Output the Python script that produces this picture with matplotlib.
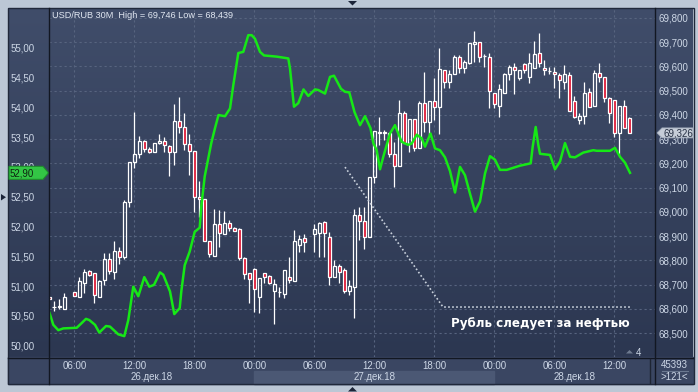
import numpy as np
import matplotlib
matplotlib.use('Agg')
import matplotlib.pyplot as plt
from matplotlib.patches import Rectangle, Polygon
from matplotlib.transforms import blended_transform_factory
from matplotlib.colors import LinearSegmentedColormap

plt.rcParams['font.family'] = ['Liberation Sans', 'DejaVu Sans']

# ---------------- data ----------------
# USD/RUB 30M candles, first bar 26.12.18 03:30, step 30 min (hours since 26.12 00:00)
start_hour = 3.5
bar_step = 0.5
opens = [68.651, 68.607, 68.610, 68.601, None, 68.669, 68.651, 68.708, 68.755, 68.747,
         68.651, 68.719, 68.805, 68.751, 68.838, 68.813, 69.040, 69.205, 69.239, 69.294,
         69.258, 69.246, 69.283, 69.291, 69.271, 69.246, 69.374, 69.349, 69.279, 69.251,
         69.060, 69.052, 68.879, 68.820, 68.949, 68.908, 68.953, 68.933, 68.930, 68.811,
         68.747, 68.764, 68.648, 68.747, 68.737, 68.675, 68.671, 68.660, 68.733, 68.715,
         68.864, 68.891, None, 68.908, 68.912, 68.957, 68.898, 68.733, 68.778, 68.761,
         68.675, 68.692, 68.987, 68.963, 68.895, 69.145, 69.331, 69.324, 69.327, 69.238,
         69.191, 69.407, 69.283, 69.382, 69.265, 69.448, 69.370, 69.458, 69.432, 69.585,
         69.535, 69.569, 69.638, 69.592, 69.613, 69.693, 69.702, 69.643, 69.640, 69.489,
         69.437, 69.489, 69.568, 69.599, 69.551, 69.609, 69.555, 69.595, 69.654, 69.592,
         69.581, 69.576, 69.565, 69.537, 69.565, 69.458, 69.379, 69.397, 69.496, 69.437,
         69.572, 69.555, 69.471, 69.462, 69.324, 69.437, 69.386]
highs = [68.651, 68.634, 68.640, 68.667, None, 68.669, 68.733, 68.764, 68.761, 68.748,
         68.719, 68.830, 68.830, 68.879, 68.857, 69.049, 69.207, 69.412, 69.313, 69.297,
         69.269, 69.283, 69.320, 69.310, 69.276, 69.445, 69.475, 69.407, 69.320, 69.251,
         69.129, 69.052, 68.879, 69.013, 69.008, 69.004, 68.967, 68.939, 68.933, 68.813,
         68.747, 68.768, 68.726, 68.747, 68.740, 68.722, 68.692, 68.761, 68.813, 68.926,
         68.905, 68.908, None, 68.950, 68.960, 68.963, 68.919, 68.802, 68.784, 68.768,
         68.719, 69.011, 69.022, 69.022, 69.143, 69.334, 69.393, 69.338, 69.327, 69.290,
         69.462, 69.418, 69.382, 69.382, 69.458, 69.578, 69.458, 69.551, 69.675, 69.585,
         69.585, 69.647, 69.647, 69.627, 69.698, 69.746, 69.702, 69.650, 69.654, 69.492,
         69.526, 69.572, 69.606, 69.613, 69.585, 69.613, 69.654, 69.705, 69.737, 69.627,
         69.599, 69.599, 69.572, 69.606, 69.578, 69.478, 69.407, 69.537, 69.510, 69.585,
         69.613, 69.558, 69.475, 69.462, 69.437, 69.462, 69.393]
lows = [68.640, 68.593, 68.599, 68.601, None, 68.652, 68.648, 68.665, 68.736, 68.626,
        68.651, 68.698, 68.744, 68.722, 68.785, 68.805, 69.019, 69.183, 69.221, 69.248,
        69.242, 69.246, 69.279, 69.248, 69.150, 69.194, 69.324, 69.255, 69.152, 69.001,
        68.980, 68.879, 68.815, 68.820, 68.857, 68.908, 68.921, 68.921, 68.802, 68.722,
        68.626, 68.589, 68.585, 68.706, 68.703, 68.537, 68.651, 68.644, 68.706, 68.715,
        68.836, 68.834, None, 68.834, 68.815, 68.815, 68.699, 68.733, 68.706, 68.665,
        68.658, 68.561, 68.884, 68.846, 68.895, 69.121, 69.276, 69.297, 69.228, 69.104,
        69.191, 69.283, 69.248, 69.251, 69.265, 69.331, 69.317, 69.379, 69.320, 69.510,
        69.510, 69.569, 69.572, 69.572, 69.609, 69.620, 69.620, 69.599, 69.430, 69.427,
        69.393, 69.489, 69.544, 69.486, 69.544, 69.572, 69.531, 69.592, 69.596, 69.565,
        69.569, 69.510, 69.469, 69.507, 69.418, 69.389, 69.361, 69.361, 69.434, 69.437,
        69.535, 69.455, 69.366, 69.310, 69.235, 69.347, 69.326]
closes = [68.640, 68.607, 68.613, 68.648, None, 68.652, 68.715, 68.752, 68.739, 68.659,
          68.714, 68.805, 68.758, 68.838, 68.813, 69.040, 69.205, 69.239, 69.294, 69.258,
          69.246, 69.283, 69.291, 69.275, 69.246, 69.374, 69.349, 69.279, 69.253, 69.060,
          69.052, 68.879, 68.825, 68.949, 68.912, 68.953, 68.933, 68.921, 68.809, 68.744,
          68.725, 68.681, 68.726, 68.731, 68.706, 68.702, 68.671, 68.761, 68.719, 68.880,
          68.888, 68.875, None, 68.930, 68.953, 68.912, 68.733, 68.778, 68.751, 68.675,
          68.695, 68.987, 68.963, 68.898, 69.143, 69.334, 69.324, 69.331, 69.238, 69.191,
          69.407, 69.283, 69.382, 69.265, 69.448, 69.370, 69.458, 69.432, 69.588, 69.535,
          69.569, 69.638, 69.592, 69.617, 69.695, 69.701, 69.640, 69.643, 69.499, 69.444,
          69.506, 69.568, 69.599, 69.585, 69.585, 69.585, 69.615, 69.650, 69.613, 69.585,
          69.581, 69.568, 69.544, 69.569, 69.418, 69.390, 69.397, 69.489, 69.434, 69.572,
          69.555, 69.471, 69.407, 69.324, 69.437, 69.347, 69.326]

# Oil (left axis), hours since 26.12 00:00
oil_hours = [3.52, 3.90, 4.40, 4.90, 6.24, 6.74, 7.17, 7.50, 8.07, 8.50,
             9.17, 9.57, 10.40, 11.00, 11.40, 11.90, 12.40, 13.00, 13.50, 13.97,
             14.57, 14.90, 15.57, 16.00, 16.54, 16.70, 17.04, 17.54, 18.04, 18.54,
             18.70, 19.04, 19.70, 20.07, 20.42, 21.07, 21.57, 21.90, 22.40, 22.90,
             23.40, 23.74, 24.07, 24.57, 24.97, 26.24, 27.40, 27.57, 27.97, 28.40,
             28.92, 29.40, 30.07, 30.40, 31.07, 31.57, 31.97, 32.67, 33.07, 33.50,
             34.02, 34.57, 35.07, 35.62, 35.90, 36.24, 36.57, 36.90, 37.57, 38.07,
             38.40, 38.74, 39.37, 39.74, 40.24, 40.74, 41.07, 41.62, 42.07, 42.57,
             43.07, 43.57, 44.07, 44.57, 45.07, 45.57, 46.07, 46.57, 47.07, 47.57,
             48.07, 48.57, 49.24, 50.57, 51.64, 51.84, 52.14, 52.40, 52.57, 53.57,
             54.07, 54.57, 55.07, 55.57, 56.07, 56.90, 57.90, 58.24, 59.57, 60.07,
             60.57, 61.07, 61.57]
oil_vals = [50.55, 50.35, 50.26, 50.29, 50.30, 50.38, 50.45, 50.43, 50.35, 50.22,
            50.33, 50.32, 50.19, 50.16, 50.43, 50.99, 50.83, 51.15, 50.99, 51.02,
            51.23, 51.19, 50.91, 50.53, 50.63, 50.91, 51.35, 51.58, 51.91, 51.98,
            52.33, 52.84, 53.40, 53.65, 53.87, 53.85, 53.98, 54.37, 54.91, 54.93,
            55.21, 55.21, 55.15, 54.93, 54.87, 54.85, 54.82, 54.65, 54.01, 54.07,
            54.30, 54.19, 54.30, 54.29, 54.23, 54.51, 54.53, 54.31, 54.26, 54.25,
            53.92, 53.70, 53.85, 53.65, 53.40, 53.28, 52.96, 53.17, 53.56, 53.70,
            53.56, 53.42, 53.37, 53.39, 53.54, 53.48, 53.34, 53.56, 53.31, 53.28,
            53.16, 52.93, 52.57, 53.00, 52.86, 52.55, 52.25, 52.42, 52.89, 53.18,
            53.12, 52.95, 52.95, 53.02, 53.06, 53.34, 53.67, 53.37, 53.22, 53.20,
            52.96, 53.09, 53.40, 53.17, 53.16, 53.24, 53.28, 53.27, 53.27, 53.32,
            53.17, 53.07, 52.90]

usd_ticks = [68.5, 68.6, 68.7, 68.8, 68.9, 69.0, 69.1, 69.2, 69.3, 69.4, 69.5, 69.6, 69.7, 69.8]
oil_ticks = [50.0, 50.5, 51.0, 51.5, 52.0, 52.5, 53.0, 53.5, 54.0, 54.5, 55.0]
time_ticks = [6, 12, 18, 24, 30, 36, 42, 48, 54, 60]
time_labels = ['06:00', '12:00', '18:00', '00:00', '06:00', '12:00', '18:00', '00:00', '06:00', '12:00']
day_starts = [0, 24, 48]
day_labels = ['26.дек.18', '27.дек.18', '28.дек.18']

note_hours = [33.07, 42.87, 61.67]
note_vals = [69.185, 68.608, 68.608]
note_text = 'Рубль следует за нефтью'
title_text = 'USD/RUB 30M  High = 69,746 Low = 68,439'

# ---------------- figure ----------------
W, H = 698, 392
fig = plt.figure(figsize=(W / 100, H / 100), dpi=100)

bg = fig.add_axes([0, 0, 1, 1])
bg.axis('off')
bg.add_patch(Rectangle((0, 0), W, H, color='#bcc7d5', zorder=0))
grad = np.linspace(0, 1, 256).reshape(-1, 1)
cmap = LinearSegmentedColormap.from_list('g', ['#404d6a', '#2c3751'])
bg.imshow(grad, extent=(8, 693, 357, 8), cmap=cmap, aspect='auto', interpolation='bilinear',
          zorder=1)
bg.add_patch(Rectangle((8, 357), 685, 27, color='#3a4662', zorder=2))
bg.set_xlim(0, W)
bg.set_ylim(H, 0)

ax = fig.add_axes([49 / W, 1 - 357 / H, 606 / W, 349 / H])
ax.patch.set_visible(False)
ax.set_xlim(3.47, 64.07)
ax.set_ylim(68.402, 69.841)
for s in ax.spines.values():
    s.set_visible(False)

ax2 = ax.twinx()
ax2.patch.set_visible(False)
for s in ax2.spines.values():
    s.set_visible(False)

txt_col = '#cdd7e6'
ax.yaxis.tick_right()
ax.set_yticks(usd_ticks, [f'{v:.3f}'.replace('.', ',') for v in usd_ticks])
ax.tick_params(axis='y', length=0, pad=2.5, labelsize=7, labelcolor=txt_col,
               left=False, labelleft=False, right=True, labelright=True)
ax.set_xticks(time_ticks, time_labels)
ax.tick_params(axis='x', length=0, pad=3, labelsize=7, labelcolor=txt_col)
ax.grid(True, color='#57647f', linestyle=(0, (2, 2.5)), linewidth=0.8)
ax.set_axisbelow(True)

red = '#dc1432'
bw = 0.36
for i, (o, h, l, c) in enumerate(zip(opens, highs, lows, closes)):
    if o is None:
        continue
    t = start_hour + i * bar_step
    top, bot = max(o, c), min(o, c)
    if h > top:
        ax.vlines(t, top, h, color='white', lw=0.9, zorder=2)
    if l < bot:
        ax.vlines(t, l, bot, color='white', lw=0.9, zorder=2)
    face = 'none' if c >= o else red
    ax.add_patch(Rectangle((t - bw / 2, bot), bw, top - bot, fc=face, ec='white', lw=0.9, zorder=2))

ax.plot(note_hours, note_vals, color='#c9d1dc', lw=1.2, linestyle=(0, (1, 1.4)), zorder=2)
ax.text(43.67, 68.541, note_text, color='white', fontsize=8.6, fontweight='bold',
        family='DejaVu Sans', ha='left', va='center', zorder=4)

# day labels and highlighted band
bt = blended_transform_factory(ax.transData, ax.transAxes)
xl0, xl1 = ax.get_xlim()
ax.add_patch(Rectangle((day_starts[1], -0.0774), 24, 0.0387, transform=bt, clip_on=False,
                       color='#4b5874', zorder=0))
for ds, lab in zip(day_starts, day_labels):
    a, b = max(ds, xl0), min(ds + 24, xl1)
    ax.text((a + b) / 2, -0.0573, lab, transform=bt, ha='center', va='center',
            fontsize=7, color=txt_col, clip_on=False)

ax2.set_ylim(49.810, 55.666)
ax2.set_yticks(oil_ticks, [f'{v:.2f}'.replace('.', ',') for v in oil_ticks])
ax2.tick_params(axis='y', length=0, pad=10.5, labelsize=7, labelcolor=txt_col,
                left=True, labelleft=True, right=False, labelright=False)
ax2.plot(oil_hours, oil_vals, color='#16e816', lw=1.8, zorder=3)

# ---------------- overlay ----------------
ov = fig.add_axes([0, 0, 1, 1], zorder=10)
ov.set_xlim(0, W)
ov.set_ylim(H, 0)
ov.axis('off')
ov.patch.set_visible(False)
dark = '#121722'
ov.add_patch(Rectangle((7.5, 7.5), 686, 376.5, fill=False, ec='#20283a', lw=1))
ov.plot([49, 49], [8, 384], color=dark, lw=1)
ov.plot([655, 655], [8, 384], color=dark, lw=1)
ov.plot([8, 693], [357.5, 357.5], color=dark, lw=1)
ov.plot([650, 650], [359, 383], color='#1e2533', lw=1)

ov.text(52, 15, title_text, color='#e2e8f2', fontsize=6.6, ha='left', va='center')

# left oil tag
yl = H - ax2.transData.transform((10, oil_vals[-1]))[1]
ov.add_patch(Polygon([(9, yl - 6.5), (43, yl - 6.5), (48.5, yl), (43, yl + 6.5), (9, yl + 6.5)],
                     closed=True, fc='#33c545', ec='#1f8d2c', lw=0.8))
ov.text(10, yl + 0.5, f'{oil_vals[-1]:.2f}'.replace('.', ','), color='#0f2410', fontsize=7,
        ha='left', va='center')
# right price tag
yr = H - ax.transData.transform((10, closes[-1]))[1]
ov.add_patch(Polygon([(657, yr), (662, yr - 5), (693, yr - 5), (693, yr + 5), (662, yr + 5)],
                     closed=True, fc='#c6cdd8', ec='#9aa4b4', lw=0.6))
ov.text(663, yr + 0.3, f'{closes[-1]:.3f}'.replace('.', ','), color='#263044', fontsize=7,
        ha='left', va='center')

# small markers
ov.add_patch(Polygon([(348, 1), (357, 1), (352.5, 5.5)], closed=True, fc='#1c2438'))
ov.add_patch(Polygon([(348, 391.5), (357, 391.5), (352.5, 387)], closed=True, fc='#1c2438'))
ov.add_patch(Polygon([(1, 194), (1, 200.5), (6, 197.2)], closed=True, fc='#1c2438'))
ov.add_patch(Polygon([(626, 353.5), (633, 353.5), (629.5, 350)], closed=True, fc='#6f7b90'))
ov.text(638, 352.5, '4', color=txt_col, fontsize=7, ha='center', va='center')
ov.text(674, 365.5, '45393', color=txt_col, fontsize=7, ha='center', va='center')
ov.plot([662, 688], [371, 371], color='#6a7890', lw=0.8)
ov.text(674, 377.5, '>121<', color=txt_col, fontsize=7, ha='center', va='center')

fig.savefig('out.png', dpi=100)
